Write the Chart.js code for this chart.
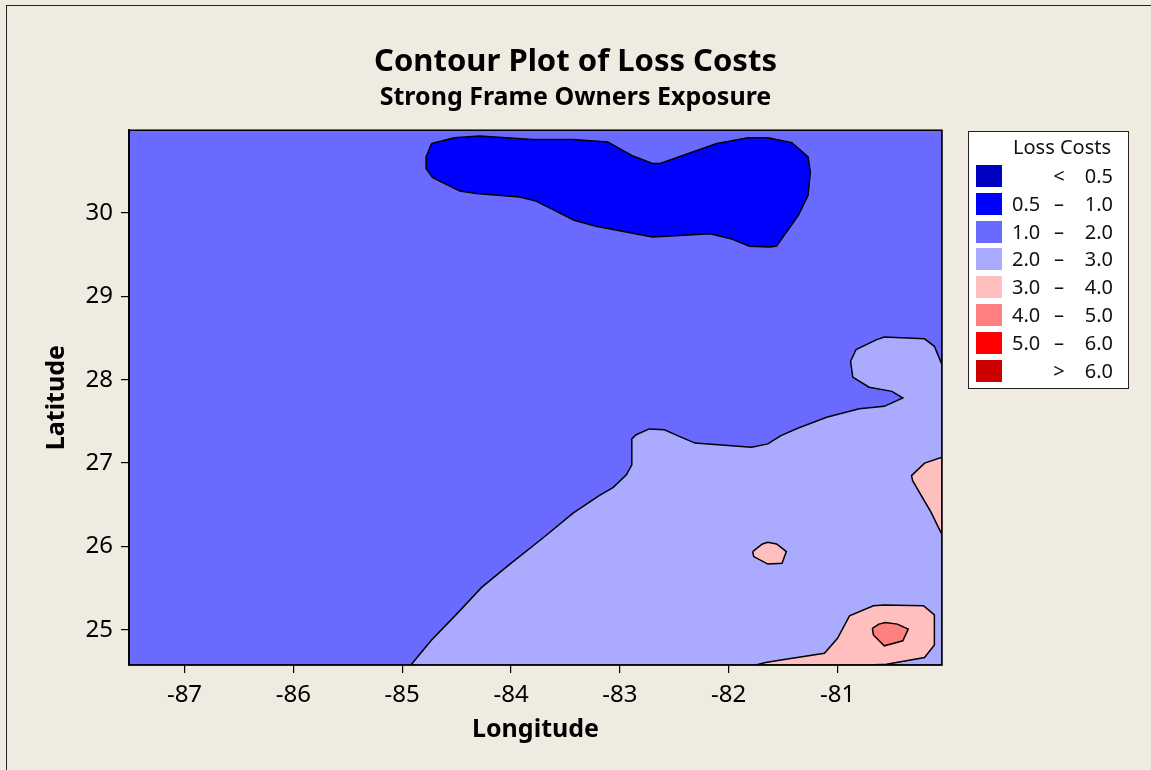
<!DOCTYPE html>
<html>
<head>
<meta charset="utf-8">
<script src="https://cdn.jsdelivr.net/npm/chart.js@4.4.1/dist/chart.umd.min.js"></script>
<style>
  html, body { margin: 0; padding: 0; background: #efebe1; overflow: hidden; }
  #wrap { position: relative; width: 1151px; height: 770px; }
  #frame { position: absolute; left: 6px; top: 5px; width: 1300px; height: 900px;
           border-left: 1.5px solid #222; border-top: 1.5px solid #222; }
  #chart { position: absolute; left: 0; top: 0; }
  #legend { position: absolute; left: 968px; top: 131px; width: 161px; height: 258px; box-sizing: border-box;
            background: #fff; border: 1.5px solid #222; font-family: 'Noto Sans', sans-serif; color: #111; }
  #legend .ttl { position: absolute; left: 0; width: 186px; top: 4px; text-align: center; font-size: 20px; line-height: 22px; }
  #legend .sw { position: absolute; left: 7px; width: 26px; height: 22px; }
  #legend .txt { position: absolute; font-size: 20px; line-height: 22px; white-space: nowrap; }
</style>
</head>
<body>
<div id="wrap">
  <div id="frame"></div>
  <canvas id="chart" width="1151" height="770"></canvas>
  <div id="legend"></div>
</div>
<script>
// axis ranges and tick labels
const LON_RANGE = [-87.51, -80.04];
const LAT_RANGE = [24.58, 30.99];
const LON_TICKS = [-87, -86, -85, -84, -83, -82, -81];
const LAT_TICKS = [25, 26, 27, 28, 29, 30];

// contour levels (legend)
const LEVEL_FROM = ['', '0.5', '1.0', '2.0', '3.0', '4.0', '5.0', ''];
const LEVEL_SIGN = ['<', '–', '–', '–', '–', '–', '–', '>'];
const LEVEL_TO = ['0.5', '1.0', '2.0', '3.0', '4.0', '5.0', '6.0', '6.0'];
const LEVEL_COLORS = ['#0000c0', '#0000ff', '#6a6aff', '#aaaaff', '#ffbfbf', '#ff8080', '#ff0000', '#cc0000'];

// contour regions, [longitude, latitude] vertices
const ZONE_1_2 = [[-87.51, 24.58], [-80.04, 24.58], [-80.04, 30.99], [-87.51, 30.99]];

const ZONE_05_1 = [
  [-84.73, 30.83], [-84.52, 30.90], [-84.29, 30.92], [-83.80, 30.88], [-83.43, 30.88], [-83.11, 30.85],
  [-82.88, 30.68], [-82.70, 30.59], [-82.63, 30.59], [-82.11, 30.83], [-81.82, 30.90], [-81.64, 30.90],
  [-81.42, 30.84], [-81.27, 30.67], [-81.25, 30.49], [-81.27, 30.21], [-81.36, 29.97], [-81.56, 29.60],
  [-81.62, 29.59], [-81.81, 29.60], [-81.98, 29.69], [-82.17, 29.75], [-82.70, 29.71], [-83.22, 29.84],
  [-83.42, 29.91], [-83.77, 30.14], [-83.92, 30.19], [-84.32, 30.23], [-84.47, 30.26], [-84.72, 30.42],
  [-84.78, 30.53], [-84.78, 30.67]
];

const ZONE_2_3 = [
  [-84.92, 24.58], [-84.73, 24.88], [-84.50, 25.19], [-84.27, 25.51], [-84.01, 25.79], [-83.69, 26.12],
  [-83.43, 26.40], [-83.19, 26.61], [-83.06, 26.71], [-82.94, 26.86], [-82.89, 26.98], [-82.89, 27.29],
  [-82.85, 27.34], [-82.73, 27.41], [-82.59, 27.40], [-82.47, 27.33], [-82.31, 27.24], [-81.79, 27.19],
  [-81.64, 27.23], [-81.52, 27.33], [-81.36, 27.42], [-81.10, 27.55], [-80.80, 27.65], [-80.57, 27.68],
  [-80.40, 27.78], [-80.50, 27.86], [-80.71, 27.91], [-80.86, 28.03], [-80.88, 28.22], [-80.83, 28.36],
  [-80.64, 28.48], [-80.57, 28.51], [-80.20, 28.49], [-80.11, 28.40], [-80.04, 28.18], [-80.04, 24.58]
];

const ZONE_3_4_EAST = [
  [-80.04, 27.07], [-80.20, 27.00], [-80.32, 26.85], [-80.31, 26.79], [-80.14, 26.41], [-80.04, 26.14]
];

const ZONE_3_4_ISLAND = [
  [-81.78, 25.94], [-81.77, 25.88], [-81.64, 25.79], [-81.51, 25.80], [-81.47, 25.94], [-81.56, 26.03],
  [-81.64, 26.05], [-81.69, 26.03]
];

const ZONE_3_4_SOUTH = [
  [-81.75, 24.58], [-81.66, 24.61], [-81.52, 24.64], [-81.12, 24.72], [-81.00, 24.90], [-80.89, 25.17],
  [-80.67, 25.29], [-80.57, 25.30], [-80.21, 25.29], [-80.11, 25.18], [-80.11, 24.82], [-80.20, 24.67],
  [-80.55, 24.59], [-80.71, 24.58]
];

const ZONE_4_5 = [
  [-80.68, 25.02], [-80.67, 24.94], [-80.57, 24.81], [-80.40, 24.87], [-80.35, 25.01], [-80.45, 25.07],
  [-80.56, 25.09], [-80.62, 25.07]
];

// drawing order, bottom first: [region, level index]
const LAYERS = [
  [ZONE_1_2, 2], [ZONE_05_1, 1], [ZONE_2_3, 3], [ZONE_3_4_EAST, 4],
  [ZONE_3_4_ISLAND, 4], [ZONE_3_4_SOUTH, 4], [ZONE_4_5, 5]
];

Chart.defaults.font.family = "'Noto Sans', sans-serif";
Chart.defaults.color = '#000';

const plotFrame = {
  id: 'plotFrame',
  afterDatasetsDraw(chart) {
    const { ctx, chartArea: a } = chart;
    ctx.save();
    ctx.strokeStyle = '#000';
    ctx.lineWidth = 1.5;
    ctx.strokeRect(a.left, a.top, a.width, a.height);
    ctx.restore();
  }
};

const axisStyle = {
  grid: { drawOnChartArea: false, drawTicks: true, tickLength: 8, color: '#000', lineWidth: 1.2 },
  border: { display: true, color: '#000', width: 1.5 },
};

new Chart(document.getElementById('chart'), {
  type: 'line',
  data: {
    datasets: LAYERS.map(([pts, level], i) => ({
      data: pts.concat([pts[0]]).map(([x, y]) => ({ x, y })),
      fill: 'shape',
      backgroundColor: LEVEL_COLORS[level],
      borderColor: '#000',
      borderWidth: 1.5,
      pointRadius: 0,
      pointHoverRadius: 0,
      tension: 0,
      order: -i
    }))
  },
  options: {
    responsive: false,
    animation: false,
    events: [],
    layout: { padding: 0 },
    plugins: {
      legend: { display: false },
      tooltip: { enabled: false },
      title: {
        display: true, text: 'Contour Plot of Loss Costs', color: '#000',
        font: { size: 31, weight: 'bold', lineHeight: 1.2 }, padding: { top: 44, bottom: 0 }
      },
      subtitle: {
        display: true, text: 'Strong Frame Owners Exposure', color: '#000',
        font: { size: 25, weight: 'bold', lineHeight: 1.2 }, padding: { top: 2, bottom: 17 }
      }
    },
    scales: {
      x: {
        type: 'linear', min: LON_RANGE[0], max: LON_RANGE[1], ...axisStyle,
        ticks: { font: { size: 24 }, color: '#000', padding: 8, includeBounds: false, maxRotation: 0 },
        afterBuildTicks: s => { s.ticks = LON_TICKS.map(value => ({ value })); },
        afterFit: s => { s.height = 105; },
        title: { display: true, text: 'Longitude', color: '#000', font: { size: 25, weight: 'bold', lineHeight: 1.2 }, padding: { top: 0, bottom: 25 } }
      },
      y: {
        type: 'linear', min: LAT_RANGE[0], max: LAT_RANGE[1], ...axisStyle,
        ticks: { font: { size: 24 }, color: '#000', padding: 8, includeBounds: false },
        afterBuildTicks: s => { s.ticks = LAT_TICKS.map(value => ({ value })); },
        afterFit: s => { s.width = 129; },
        title: { display: true, text: 'Latitude', color: '#000', font: { size: 25, weight: 'bold', lineHeight: 1.2 }, padding: { top: 42, bottom: 0 } }
      },
      yPad: {
        type: 'linear', position: 'right', display: true,
        grid: { display: false }, border: { display: false }, ticks: { display: false },
        afterFit: s => { s.width = 209; }
      }
    }
  },
  plugins: [plotFrame]
});

// legend box
const legendEl = document.getElementById('legend');
legendEl.innerHTML = '<div class="ttl">Loss Costs</div>' + LEVEL_COLORS.map((c, i) => {
  const top = 33 + i * 27.8;
  return `<div class="sw" style="top:${top}px;background:${c}"></div>` +
    `<div class="txt" style="top:${top}px;left:43px">${LEVEL_FROM[i]}</div>` +
    `<div class="txt" style="top:${top}px;left:80px;width:20px;text-align:center">${LEVEL_SIGN[i]}</div>` +
    `<div class="txt" style="top:${top}px;right:15px;text-align:right">${LEVEL_TO[i]}</div>`;
}).join('');
</script>
</body>
</html>
